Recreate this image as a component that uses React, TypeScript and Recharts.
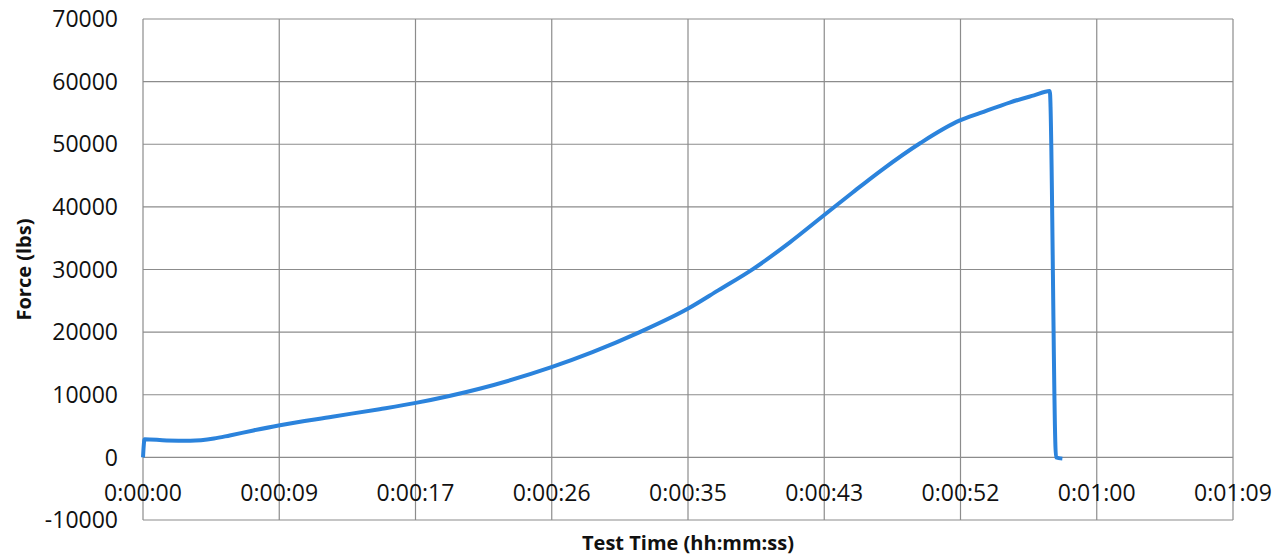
import React from 'react';
import { LineChart, Line, XAxis, YAxis, CartesianGrid } from 'recharts';

// test time in seconds
const timeSec = [
  0, 0.1, 1.5, 3, 4.5, 5.5, 7, 8.6, 12, 15, 17.3, 21.4, 25.9, 28.5, 31.5, 34.6,
  36.5, 38.7, 41, 43.2, 45, 46.8, 49.3, 51.8, 53.1, 55, 56.5, 57.5, 57.9, 58.3,
];
// force in lbs
const forceLbs = [
  0, 2900, 2700, 2650, 3000, 3500, 4300, 5100, 6500, 7700, 8700, 11000, 14400,
  16800, 20000, 23800, 26700, 30100, 34300, 38700, 42300, 45800, 50200, 53800,
  55000, 56700, 57800, 58500, 0, -200,
];

// Excel put ticks every 0.0001 day (8.64 s)
const xTicks = [0, 8.64, 17.28, 25.92, 34.56, 43.2, 51.84, 60.48, 69.12];
const yTicks = [-10000, 0, 10000, 20000, 30000, 40000, 50000, 60000, 70000];

const data = timeSec.map((t, i) => ({ t, force: forceLbs[i] }));

const FONT = '"Open Sans", sans-serif';

function fmtTime(s: number) {
  const total = Math.round(s);
  const h = Math.floor(total / 3600);
  const m = Math.floor((total % 3600) / 60);
  const sec = total % 60;
  return `${h}:${String(m).padStart(2, '0')}:${String(sec).padStart(2, '0')}`;
}

// x labels sit just under the zero line, like Excel's crossing axis
function TimeTick({ x, y, payload }: any) {
  return (
    <text x={x} y={y} dy={-19} textAnchor="middle" fill="#111" fontSize={23} fontFamily={FONT}>
      {fmtTime(payload.value)}
    </text>
  );
}

export default function App() {
  return (
    <div style={{ position: 'absolute', left: 0, top: 0, background: '#fff' }}>
      <LineChart
        width={1284}
        height={556}
        data={data}
        margin={{ top: 19, right: 51, bottom: 0, left: 0 }}
      >
        <CartesianGrid stroke="#8c8c8c" strokeWidth={1.2} />
        <XAxis
          dataKey="t"
          type="number"
          domain={[0, 69.12]}
          ticks={xTicks}
          tick={<TimeTick />}
          tickLine={false}
          axisLine={false}
          tickSize={0}
          tickMargin={0}
          height={36}
          interval={0}
          label={{
            value: 'Test Time (hh:mm:ss)',
            position: 'insideBottom',
            offset: 6,
            fill: '#111',
            fontSize: 20,
            fontWeight: 700,
            fontFamily: FONT,
          }}
        />
        <YAxis
          type="number"
          domain={[-10000, 70000]}
          ticks={yTicks}
          interval={0}
          width={143}
          tickLine={false}
          axisLine={false}
          tickSize={0}
          tickMargin={25}
          tick={{ fill: '#111', fontSize: 23, fontFamily: FONT }}
          label={{
            value: 'Force (lbs)',
            angle: -90,
            position: 'insideLeft',
            offset: 24,
            style: { textAnchor: 'middle' },
            fill: '#111',
            fontSize: 20,
            fontWeight: 700,
            fontFamily: FONT,
          }}
        />
        <Line
          type="monotone"
          dataKey="force"
          stroke="#2b83dc"
          strokeWidth={4}
          dot={false}
          isAnimationActive={false}
        />
      </LineChart>
    </div>
  );
}
